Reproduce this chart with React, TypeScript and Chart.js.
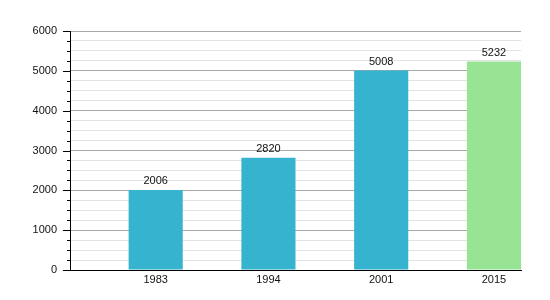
import React, { useEffect, useRef } from "react";
import { Chart, registerables } from "chart.js";

Chart.register(...registerables);

const years = ["1983", "1994", "2001", "2015"];
const values = [2006, 2820, 5008, 5232];
const barColors = ["#36b3ce", "#36b3ce", "#36b3ce", "#98e495"];
const yMax = 6000;
const majorStep = 1000;
const minorStep = 250;

const BAR_OFFSET = 0.76;
const FONT = "'Liberation Sans', Arial, sans-serif";

export default function App() {
  const ref = useRef<HTMLCanvasElement | null>(null);

  useEffect(() => {
    const canvas = ref.current;
    if (!canvas) return;

    const points = values.map((v, i) => ({ x: i + BAR_OFFSET, y: v }));

    const tickPlugin = {
      id: "yTicksAndLabels",
      afterDatasetsDraw(chart: any) {
        const ctx = chart.ctx;
        const y = chart.scales.y;
        const left = chart.chartArea.left;
        ctx.save();
        ctx.strokeStyle = "#000";
        ctx.lineWidth = 1;
        for (let v = 0; v <= yMax; v += minorStep) {
          const py = Math.round(y.getPixelForValue(v)) + 0.5;
          const len = v % majorStep === 0 ? 7 : 3;
          ctx.beginPath();
          ctx.moveTo(left - len, py);
          ctx.lineTo(left, py);
          ctx.stroke();
        }
        ctx.fillStyle = "#111";
        ctx.font = `11px ${FONT}`;
        ctx.textAlign = "center";
        ctx.textBaseline = "middle";
        const meta = chart.getDatasetMeta(0);
        meta.data.forEach((bar: any, i: number) => {
          ctx.fillText(String(values[i]), bar.x, bar.y - 9);
        });
        ctx.restore();
      },
    };

    const chart = new Chart(canvas, {
      type: "bar",
      data: {
        datasets: [
          {
            data: points as any,
            backgroundColor: barColors,
            borderWidth: 0,
            barPercentage: 0.48,
            categoryPercentage: 1,
          },
        ],
      },
      options: {
        animation: false,
        responsive: false,
        devicePixelRatio: 1,
        layout: { padding: { top: 31, right: 29, left: 0, bottom: 0 } },
        plugins: {
          legend: { display: false },
          tooltip: { enabled: false },
        },
        scales: {
          x: {
            type: "linear",
            offset: false,
            min: 0,
            max: years.length,
            afterBuildTicks: (scale: any) => {
              scale.ticks = years.map((_, i) => ({ value: i + BAR_OFFSET }));
            },
            afterFit: (scale: any) => {
              scale.height = 30;
            },
            ticks: {
              autoSkip: false,
              maxRotation: 0,
              padding: 3,
              color: "#111",
              font: { family: FONT, size: 11 },
              callback: (value: any) => {
                const idx = Math.round(Number(value) - BAR_OFFSET);
                return years[idx] ?? "";
              },
            },
            grid: { display: false, drawTicks: false },
            border: { display: true, color: "#000", width: 1 },
          },
          y: {
            min: 0,
            max: yMax,
            afterFit: (scale: any) => {
              scale.width = 70;
            },
            ticks: {
              stepSize: minorStep,
              autoSkip: false,
              padding: 13,
              color: "#111",
              font: { family: FONT, size: 11 },
              callback: (value: any) =>
                Number(value) % majorStep === 0 ? String(value) : "",
            },
            grid: {
              drawTicks: false,
              color: (ctx: any) =>
                ctx.tick && ctx.tick.value % majorStep === 0 ? "#a8a8a8" : "#e3e3e3",
            },
            border: { display: true, color: "#000", width: 1 },
          },
        },
      },
      plugins: [tickPlugin],
    });

    return () => chart.destroy();
  }, []);

  return (
    <div style={{ position: "absolute", left: 0, top: 0, width: 550, height: 300, background: "#fff" }}>
      <canvas ref={ref} width={550} height={300} />
    </div>
  );
}
